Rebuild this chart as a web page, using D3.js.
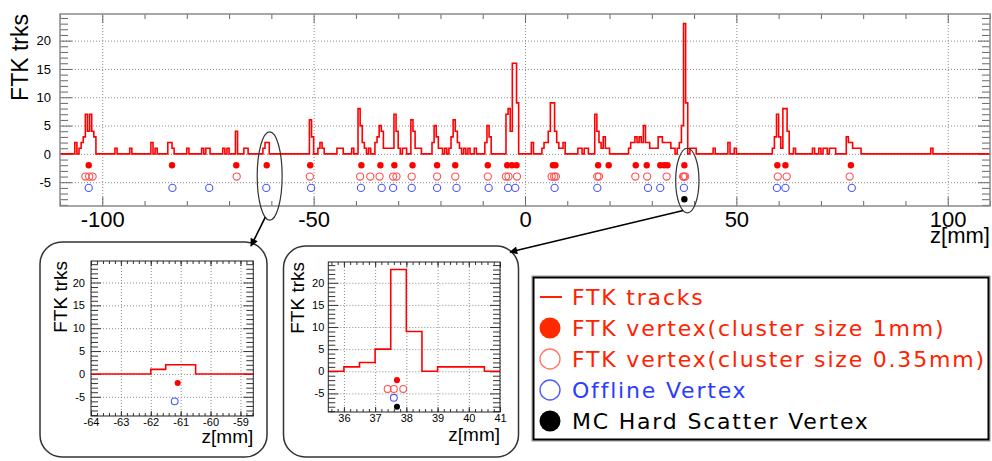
<!DOCTYPE html>
<html>
<head>
<meta charset="utf-8">
<script src="https://cdn.jsdelivr.net/npm/d3@7"></script>
<style>
    body { margin: 0; background: #fff; }
    svg { display: block; }
</style>
</head>
<body>
<svg id="chart" width="992" height="461"></svg>
<script>
// histogram of FTK track z0, 0.5 mm bins: [zLow, zHigh, tracks per bin]
var histRuns = [
    [-106.5, -106, 2],
    [-105.5, -105, 1], [-105, -104.5, 2], [-104.5, -104, 3], [-104, -103.5, 7], [-103.5, -103, 4],
    [-103, -102.5, 7], [-102.5, -102, 4], [-102, -101.5, 3],
    [-97, -96.5, 1],
    [-93.5, -93, 1],
    [-88.5, -88, 2], [-87.5, -87, 1],
    [-84.5, -83.5, 2], [-83.5, -83, 1],
    [-80, -79.5, 1],
    [-76.5, -76, 1], [-75.5, -74.5, 1],
    [-71.5, -71, 1], [-70.5, -70, 1],
    [-68.5, -68, 4],
    [-66.5, -65.5, 1],
    [-62, -61.5, 1], [-61.5, -60.5, 2],
    [-51, -50.5, 6], [-50.5, -50, 3],
    [-49, -48.5, 1], [-48.5, -48, 2], [-48, -47.5, 1],
    [-44.5, -43, 1],
    [-41, -40.5, 1],
    [-39.5, -39, 8], [-39, -38.5, 5], [-38.5, -38, 2], [-38, -37.5, 1], [-37, -36.5, 1],
    [-35.5, -35, 2], [-35, -34.5, 3], [-34.5, -34, 5], [-34, -33.5, 4], [-33.5, -31, 1],
    [-31, -30.5, 7], [-30.5, -30, 4], [-30, -29.5, 1], [-29, -28, 1],
    [-27, -26.5, 6], [-26.5, -26, 4], [-26, -24.5, 1],
    [-22, -21.5, 2], [-21.5, -21, 5], [-21, -20.5, 3], [-20.5, -19.5, 1], [-19, -18.5, 1],
    [-18, -17.5, 1], [-17.5, -17, 3], [-17, -16.5, 6], [-16.5, -16, 4], [-16, -15.5, 2], [-15.5, -15, 1],
    [-14.5, -14, 1], [-13.5, -13, 1], [-12, -11.5, 1],
    [-9.5, -9, 2], [-9, -8.5, 5], [-8.5, -8, 3],
    [-4.5, -4, 7], [-4, -3.5, 8], [-3.5, -3, 4], [-3, -2, 16], [-2, -1.5, 9],
    [1.5, 2, 2],
    [4, 4.5, 1], [4.5, 5.5, 2], [5.5, 6, 4], [6, 7, 9], [7, 7.5, 4], [7.5, 8, 2], [8, 9, 1], [9, 9.5, 2],
    [12.5, 13.5, 1], [14, 15, 1],
    [16.5, 17, 7], [17, 17.5, 4], [17.5, 18, 2], [18, 18.5, 1], [18.5, 19, 3], [19, 20, 1],
    [24.5, 25, 1], [25, 26, 2], [26, 26.5, 3], [26.5, 27, 2], [27, 27.5, 3], [27.5, 28, 2],
    [28, 28.5, 5], [28.5, 29.5, 2], [29.5, 31.5, 1],
    [31.5, 32.5, 3], [32.5, 34.5, 2], [34.5, 35.5, 1],
    [36, 36.5, 1], [36.5, 37, 2], [37, 37.5, 5], [37.5, 38, 23], [38, 38.5, 9], [39, 40.5, 1],
    [44.5, 45, 1], [48, 48.5, 2], [49.5, 50, 1],
    [58.5, 59, 1], [59, 59.5, 3], [59.5, 60, 7], [60, 60.5, 3], [60.5, 61, 1], [61, 62, 8], [62, 62.5, 4],
    [63.5, 64, 1],
    [68, 68.5, 1], [69.5, 70, 1], [70.5, 71.5, 1], [72, 72.5, 1], [72.5, 73.5, 1],
    [76, 76.5, 3], [76.5, 77.5, 2], [77.5, 79.5, 1],
    [96, 96.5, 1]
];
var histRange = [-110, 110];
var binWidth = 0.5;

// vertex z positions (mm)
var vtxFtk1mm = [-103.2, -83.5, -68.3, -61.1, -50.8, -38.7, -34.2, -30.9, -26.6, -20.8, -16.5, -8.8,
    -4.2, -3.1, -2.0, 6.6, 7.2, 17.3, 19.8, 26.2, 28.8, 32.0, 32.9, 33.7, 37.7, 59.7, 61.6, 77.1];
var vtxFtk035 = [-104.0, -103.1, -102.3, -68.2, -50.9, -39.0, -36.6, -34.4, -31.2, -30.4, -26.8, -20.8,
    -16.5, -8.8, -4.5, -3.9, -1.9, 6.3, 6.9, 7.3, 17.1, 17.5, 26.1, 28.9, 33.5, 37.4, 37.6, 37.9,
    59.8, 61.9, 76.8];
var vtxOffline = [-103.2, -83.4, -74.7, -61.2, -50.6, -38.8, -33.9, -31.2, -26.8, -20.8, -16.2, -8.6,
    -4.0, -2.3, 7.0, 17.1, 29.1, 32.0, 37.6, 59.6, 61.6, 77.3];
var vtxMcHardScatter = [37.7];
// y row each vertex collection is drawn on
var vtxRows = [-2, -4, -6, -8];

var yDomain = [-9.2, 24.7];
var yMajorTicks = [-5, 0, 5, 10, 15, 20];
var mainXTicks = [-100, -50, 0, 50, 100];
var inset1XTicks = [-64, -63, -62, -61, -60, -59];
var inset2XTicks = [36, 37, 38, 39, 40, 41];

var legendLabels = ["FTK tracks", "FTK vertex(cluster size 1mm)", "FTK vertex(cluster size 0.35mm)",
    "Offline Vertex", "MC Hard Scatter Vertex"];

var svg = d3.select("#chart");
var tickFont = "'Liberation Sans', Arial, Helvetica, sans-serif";

// fill the bins from the runs
var bins = [];
var nBins = Math.round((histRange[1] - histRange[0]) / binWidth);
for (var i = 0; i < nBins; i++) {
    bins.push({ lo: histRange[0] + i * binWidth, hi: histRange[0] + (i + 1) * binWidth, n: 0 });
}
histRuns.forEach(function(r) {
    bins.forEach(function(b) {
        if (b.lo >= r[0] - 1e-6 && b.hi <= r[1] + 1e-6) b.n = r[2];
    });
});
var stepPoints = [];
bins.forEach(function(b) {
    stepPoints.push([b.lo, b.n]);
    stepPoints.push([b.hi, b.n]);
});

var vtxSets = [
    { values: vtxFtk1mm, row: vtxRows[0], fill: "#ff0000", stroke: "none", r: 3.2 },
    { values: vtxFtk035, row: vtxRows[1], fill: "none", stroke: "#ff4f4f", r: 3.6 },
    { values: vtxOffline, row: vtxRows[2], fill: "none", stroke: "#4a55ff", r: 3.6 },
    { values: vtxMcHardScatter, row: vtxRows[3], fill: "#000", stroke: "none", r: 3.2 }
];

function drawPanel(p) {
    var x = d3.scaleLinear().domain(p.zDomain).range([p.left, p.right]);
    var y = d3.scaleLinear().domain(yDomain).range([p.bottom, p.top]);
    var w = p.right - p.left,
        h = p.bottom - p.top;
    var g = svg.append("g");

    svg.append("defs").append("clipPath")
        .attr("id", p.id)
        .append("rect")
        .attr("x", p.left).attr("y", p.top)
        .attr("width", w).attr("height", h);

    function gridStyle(s) {
        s.select(".domain").remove();
        s.selectAll("line")
            .attr("stroke", "#8c8c8c")
            .attr("stroke-dasharray", "1,2");
    }
    g.append("g")
        .attr("transform", "translate(0," + p.bottom + ")")
        .call(d3.axisBottom(x).tickValues(p.xTicks).tickSize(-h).tickFormat(""))
        .call(gridStyle);
    g.append("g")
        .attr("transform", "translate(" + p.left + ",0)")
        .call(d3.axisLeft(y).tickValues(yMajorTicks).tickSize(-w).tickFormat(""))
        .call(gridStyle);

    // inward ticks on all four sides, ROOT style
    function ticks(axis, tf, vals, len, withLabels, pad, fs) {
        var a = axis.tickValues(vals)
            .tickSizeInner(-len)
            .tickSizeOuter(0)
            .tickPadding(pad || 0)
            .tickFormat(withLabels ? function(d) { return String(d); } : "");
        var s = g.append("g").attr("transform", tf).call(a)
            .attr("font-family", tickFont)
            .attr("font-size", fs || 10);
        s.select(".domain").remove();
        s.selectAll("line").attr("stroke", p.tickColor).attr("stroke-width", 1);
        s.selectAll("text").attr("fill", "#000");
    }
    var tb = "translate(0," + p.bottom + ")",
        tt = "translate(0," + p.top + ")",
        tl = "translate(" + p.left + ",0)",
        tr = "translate(" + p.right + ",0)";
    var yMinor = d3.range(-9, 25, 1).filter(function(v) { return v % 5 !== 0; });
    ticks(d3.axisBottom(x), tb, p.xTicks, p.xMajorLen, true, p.xPad, p.xFont);
    ticks(d3.axisBottom(x), tb, p.xMinor, p.xMinorLen, false);
    ticks(d3.axisTop(x), tt, p.xTicks, p.xMajorLen, false);
    ticks(d3.axisTop(x), tt, p.xMinor, p.xMinorLen, false);
    ticks(d3.axisLeft(y), tl, yMajorTicks, p.yMajorLen, true, p.yPad, p.yFont);
    ticks(d3.axisLeft(y), tl, yMinor, p.yMinorLen, false);
    ticks(d3.axisRight(y), tr, yMajorTicks, p.yMajorLen, false);
    ticks(d3.axisRight(y), tr, yMinor, p.yMinorLen, false);

    var plot = g.append("g").attr("clip-path", "url(#" + p.id + ")");

    var line = d3.line()
        .x(function(d) { return x(d[0]); })
        .y(function(d) { return y(d[1]); });
    plot.append("path")
        .datum(stepPoints)
        .attr("d", line)
        .attr("fill", "none")
        .attr("stroke", "#ff0000")
        .attr("stroke-width", 1.6);

    vtxSets.forEach(function(set) {
        plot.selectAll(null)
            .data(set.values)
            .enter().append("circle")
            .attr("cx", function(d) { return x(d); })
            .attr("cy", y(set.row))
            .attr("r", set.r * p.markerScale)
            .attr("fill", set.fill)
            .attr("stroke", set.stroke)
            .attr("stroke-width", 1.1);
    });

    g.append("rect")
        .attr("x", p.left).attr("y", p.top)
        .attr("width", w).attr("height", h)
        .attr("fill", "none")
        .attr("stroke", p.frameColor)
        .attr("stroke-width", p.frameWidth);

    g.append("text")
        .attr("transform", "translate(" + p.yTitleX + "," + p.top + ") rotate(-90)")
        .attr("text-anchor", "end")
        .attr("font-family", tickFont)
        .attr("font-size", p.titleFont)
        .text("FTK trks");

    g.append("text")
        .attr("x", p.right)
        .attr("y", p.xTitleY)
        .attr("text-anchor", "end")
        .attr("font-family", tickFont)
        .attr("font-size", p.xTitleFont || p.titleFont)
        .text("z[mm]");

    return { x: x, y: y };
}

// inset boxes first so the plots sit on top
svg.append("rect")
    .attr("x", 40).attr("y", 242).attr("width", 227).attr("height", 215)
    .attr("rx", 22).attr("fill", "#fff").attr("stroke", "#333").attr("stroke-width", 1.5);
svg.append("rect")
    .attr("x", 283.5).attr("y", 246).attr("width", 235).attr("height", 211)
    .attr("rx", 22).attr("fill", "#fff").attr("stroke", "#333").attr("stroke-width", 1.5);

var main = drawPanel({
    id: "clipMain", left: 60, right: 990, top: 14, bottom: 206,
    zDomain: histRange, xTicks: mainXTicks, xMinor: d3.range(-110, 111, 10).filter(function(v) { return v % 50 !== 0; }),
    xMajorLen: 9, xMinorLen: 5, yMajorLen: 12, yMinorLen: 8,
    xPad: 5, xFont: 22, yPad: 9, yFont: 13,
    tickColor: "#666", frameColor: "#8a8a8a", frameWidth: 1.5,
    yTitleX: 28, xTitleY: 243, titleFont: 23, xTitleFont: 22, markerScale: 1
});

drawPanel({
    id: "clipIn1", left: 91, right: 253.3, top: 261, bottom: 416,
    zDomain: [-64, -58.57], xTicks: inset1XTicks, xMinor: d3.range(-64, -58.5, 0.2),
    xMajorLen: 5, xMinorLen: 3, yMajorLen: 10, yMinorLen: 7,
    xPad: 2, xFont: 11, yPad: 6, yFont: 11,
    tickColor: "#333", frameColor: "#222", frameWidth: 1,
    yTitleX: 67, xTitleY: 443, titleFont: 19, markerScale: 0.95
});

drawPanel({
    id: "clipIn2", left: 328.3, right: 500, top: 262, bottom: 412,
    zDomain: [35.5, 41], xTicks: inset2XTicks, xMinor: d3.range(35.6, 41, 0.2),
    xMajorLen: 5, xMinorLen: 3, yMajorLen: 10, yMinorLen: 7,
    xPad: 2, xFont: 11, yPad: 4, yFont: 11,
    tickColor: "#333", frameColor: "#222", frameWidth: 1,
    yTitleX: 303.5, xTitleY: 441, titleFont: 19, markerScale: 0.95
});

// ellipses marking the zoomed regions, and arrows to the insets
svg.append("defs").append("marker")
    .attr("id", "arrowHead")
    .attr("viewBox", "0 0 10 10")
    .attr("refX", 9).attr("refY", 5)
    .attr("markerWidth", 10).attr("markerHeight", 8)
    .attr("markerUnits", "userSpaceOnUse")
    .attr("orient", "auto")
    .append("path")
    .attr("d", "M0,0L10,5L0,10z")
    .attr("fill", "#000");

var zooms = [
    { z: -60.4, yc: -3.9, dz: 2.95, dy: 7.8, tip: [251, 246] },
    { z: 38.4, yc: -4.7, dz: 2.76, dy: 5.7, tip: [510, 252] }
];
zooms.forEach(function(zm) {
    var cx = main.x(zm.z),
        cy = main.y(zm.yc),
        rx = main.x(zm.z + zm.dz) - cx,
        ry = main.y(zm.yc - zm.dy) - cy;
    svg.append("ellipse")
        .attr("cx", cx).attr("cy", cy)
        .attr("rx", rx).attr("ry", ry)
        .attr("fill", "none")
        .attr("stroke", "#333")
        .attr("stroke-width", 1.2);
    svg.append("line")
        .attr("x1", cx - rx * 0.35).attr("y1", cy + ry * 0.93)
        .attr("x2", zm.tip[0]).attr("y2", zm.tip[1])
        .attr("stroke", "#000")
        .attr("stroke-width", 1.6)
        .attr("marker-end", "url(#arrowHead)");
});

// legend
var legend = svg.append("g");
legend.append("rect")
    .attr("x", 532).attr("y", 276).attr("width", 458).attr("height", 165)
    .attr("fill", "none").attr("stroke", "#999").attr("stroke-width", 1);
legend.append("rect")
    .attr("x", 533.5).attr("y", 277.5).attr("width", 455).attr("height", 162)
    .attr("fill", "#fff").attr("stroke", "#000").attr("stroke-width", 2);

var legendColors = ["#ff2200", "#ff2200", "#ff2200", "#2a3cff", "#000"];
legendLabels.forEach(function(label, i) {
    var cy = 297 + i * 31;
    if (i === 0) {
        legend.append("line")
            .attr("x1", 540).attr("x2", 562).attr("y1", cy).attr("y2", cy)
            .attr("stroke", "#ff2200").attr("stroke-width", 2);
    } else {
        var set = vtxSets[i - 1];
        legend.append("circle")
            .attr("cx", 550).attr("cy", cy).attr("r", set.fill === "none" ? 10 : 10.5)
            .attr("fill", set.fill === "none" ? "none" : (i === 1 ? "#ff2a00" : "#000"))
            .attr("stroke", set.fill === "none" ? (i === 2 ? "#ff7a66" : "#4d5cff") : "none")
            .attr("stroke-width", 1.4);
    }
    legend.append("text")
        .attr("x", 572)
        .attr("y", cy)
        .attr("dy", "0.36em")
        .attr("font-family", "'DejaVu Sans', sans-serif")
        .attr("font-size", 22)
        .attr("letter-spacing", "1.8px")
        .attr("fill", legendColors[i])
        .text(label);
});
</script>
</body>
</html>
